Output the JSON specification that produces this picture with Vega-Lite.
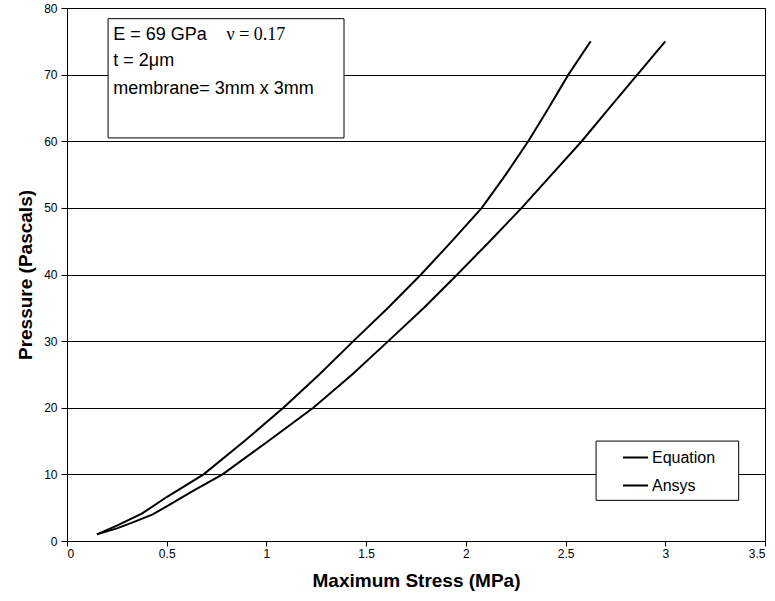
{
  "$schema": "https://vega.github.io/schema/vega-lite/v6.json",
  "autosize": {"type": "none"},
  "width": 698,
  "height": 533,
  "padding": {"left": 67, "top": 8, "right": 10, "bottom": 52},
  "background": "white",
  "config": {
    "view": {"stroke": "black", "strokeWidth": 1},
    "axis": {
      "labelFont": "Liberation Sans",
      "labelFontSize": 12,
      "labelColor": "black",
      "titleFont": "Liberation Sans",
      "titleFontSize": 19,
      "titleFontWeight": "bold",
      "titleColor": "black",
      "domainColor": "black",
      "tickColor": "black",
      "tickSize": 6
    }
  },
  "datasets": {
    "curves": [
      {"series": "Equation", "stress": 0.15, "pressure": 1},
      {"series": "Equation", "stress": 0.25, "pressure": 2.3},
      {"series": "Equation", "stress": 0.375, "pressure": 4.1},
      {"series": "Equation", "stress": 0.5, "pressure": 6.6},
      {"series": "Equation", "stress": 0.685, "pressure": 10},
      {"series": "Equation", "stress": 0.89, "pressure": 15},
      {"series": "Equation", "stress": 1.085, "pressure": 20},
      {"series": "Equation", "stress": 1.265, "pressure": 25},
      {"series": "Equation", "stress": 1.436, "pressure": 30},
      {"series": "Equation", "stress": 1.61, "pressure": 35},
      {"series": "Equation", "stress": 1.775, "pressure": 40},
      {"series": "Equation", "stress": 1.93, "pressure": 45},
      {"series": "Equation", "stress": 2.08, "pressure": 50},
      {"series": "Equation", "stress": 2.2, "pressure": 55},
      {"series": "Equation", "stress": 2.313, "pressure": 60},
      {"series": "Equation", "stress": 2.415, "pressure": 65},
      {"series": "Equation", "stress": 2.514, "pressure": 70},
      {"series": "Equation", "stress": 2.626, "pressure": 75},
      {"series": "Ansys", "stress": 0.15, "pressure": 1},
      {"series": "Ansys", "stress": 0.25, "pressure": 1.9},
      {"series": "Ansys", "stress": 0.33, "pressure": 2.8},
      {"series": "Ansys", "stress": 0.43, "pressure": 4},
      {"series": "Ansys", "stress": 0.5, "pressure": 5.2},
      {"series": "Ansys", "stress": 0.63, "pressure": 7.5},
      {"series": "Ansys", "stress": 0.78, "pressure": 10},
      {"series": "Ansys", "stress": 1.01, "pressure": 15},
      {"series": "Ansys", "stress": 1.235, "pressure": 20},
      {"series": "Ansys", "stress": 1.43, "pressure": 25},
      {"series": "Ansys", "stress": 1.611, "pressure": 30},
      {"series": "Ansys", "stress": 1.79, "pressure": 35},
      {"series": "Ansys", "stress": 1.957, "pressure": 40},
      {"series": "Ansys", "stress": 2.12, "pressure": 45},
      {"series": "Ansys", "stress": 2.28, "pressure": 50},
      {"series": "Ansys", "stress": 2.43, "pressure": 55},
      {"series": "Ansys", "stress": 2.581, "pressure": 60},
      {"series": "Ansys", "stress": 2.72, "pressure": 65},
      {"series": "Ansys", "stress": 2.86, "pressure": 70},
      {"series": "Ansys", "stress": 3.0, "pressure": 75}
    ],
    "one": [{}]
  },
  "layer": [
    {
      "data": {"name": "curves"},
      "mark": {"type": "line", "strokeWidth": 2},
      "encoding": {
        "x": {
          "field": "stress",
          "type": "quantitative",
          "scale": {"domain": [0, 3.5], "nice": false, "zero": false},
          "axis": {
            "title": "Maximum Stress (MPa)",
            "values": [0, 0.5, 1, 1.5, 2, 2.5, 3, 3.5],
            "format": "~g",
            "grid": false,
            "tickSize": 5,
            "labelPadding": 2,
            "titlePadding": 12
          }
        },
        "y": {
          "field": "pressure",
          "type": "quantitative",
          "scale": {"domain": [0, 80], "nice": false},
          "axis": {
            "title": "Pressure (Pascals)",
            "values": [0, 10, 20, 30, 40, 50, 60, 70, 80],
            "grid": true,
            "gridColor": "black",
            "gridOpacity": 1,
            "gridWidth": 1,
            "labelPadding": 4,
            "titlePadding": 8
          }
        },
        "color": {
          "field": "series",
          "type": "nominal",
          "scale": {"domain": ["Equation", "Ansys"], "range": ["black", "black"]},
          "legend": {
            "title": null,
            "orient": "none",
            "legendX": 555,
            "legendY": 436,
            "symbolType": "stroke",
            "symbolSize": 625,
            "symbolStrokeWidth": 2,
            "labelFont": "Liberation Sans",
            "labelFontSize": 16,
            "labelColor": "black",
            "labelOffset": 3,
            "padding": 0,
            "rowPadding": 6
          }
        }
      }
    },
    {
      "data": {"name": "one"},
      "mark": {"type": "rect", "fill": "white", "stroke": "black", "strokeWidth": 1},
      "encoding": {
        "x": {"datum": 0.206},
        "x2": {"datum": 1.389},
        "y": {"datum": 78.4},
        "y2": {"datum": 60.5}
      }
    },
    {
      "data": {"name": "one"},
      "mark": {"type": "rect", "fill": "white", "stroke": "black", "strokeWidth": 1},
      "encoding": {
        "x": {"datum": 2.653},
        "x2": {"datum": 3.368},
        "y": {"datum": 15.0},
        "y2": {"datum": 6.1}
      }
    },
    {
      "data": {"name": "one"},
      "mark": {"type": "text", "text": "E = 69 GPa", "align": "left", "baseline": "middle", "font": "Liberation Sans", "fontSize": 18, "color": "black"},
      "encoding": {"x": {"datum": 0.232}, "y": {"datum": 76.0}}
    },
    {
      "data": {"name": "one"},
      "mark": {"type": "text", "text": "ν = 0.17", "align": "left", "baseline": "middle", "font": "Liberation Serif", "fontSize": 18, "color": "black"},
      "encoding": {"x": {"datum": 0.8}, "y": {"datum": 76.0}}
    },
    {
      "data": {"name": "one"},
      "mark": {"type": "text", "text": "t = 2μm", "align": "left", "baseline": "middle", "font": "Liberation Sans", "fontSize": 18, "color": "black"},
      "encoding": {"x": {"datum": 0.232}, "y": {"datum": 72.0}}
    },
    {
      "data": {"name": "one"},
      "mark": {"type": "text", "text": "membrane= 3mm x 3mm", "align": "left", "baseline": "middle", "font": "Liberation Sans", "fontSize": 18, "color": "black"},
      "encoding": {"x": {"datum": 0.232}, "y": {"datum": 67.9}}
    }
  ]
}
